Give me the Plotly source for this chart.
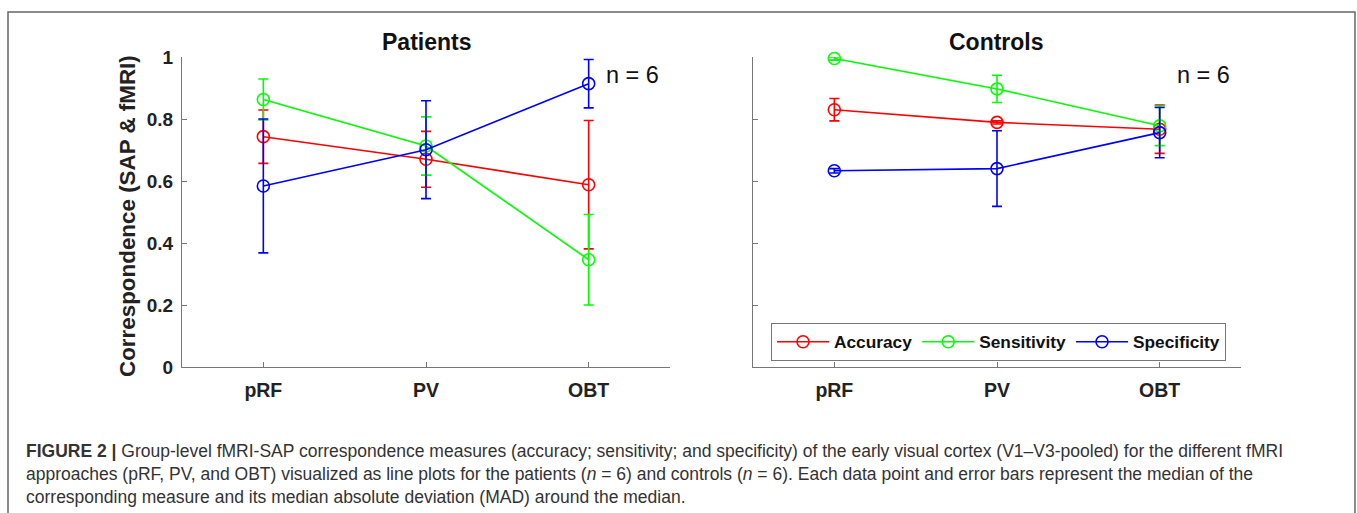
import plotly.graph_objects as go

W, H = 1357, 513

# Fixed-stage categories shared by both panels
stages = ["pRF", "PV", "OBT"]
measures = ["Accuracy", "Sensitivity", "Specificity"]
colors = {"Accuracy": "#FF0000", "Sensitivity": "#00FF00", "Specificity": "#0000FF"}

# Medians per measure (pRF, PV, OBT)
patients_acc = [0.743, 0.670, 0.588]
patients_sens = [0.863, 0.713, 0.346]
patients_spec = [0.584, 0.701, 0.914]
controls_acc = [0.830, 0.789, 0.767]
controls_sens = [0.995, 0.897, 0.778]
controls_spec = [0.633, 0.640, 0.756]

# Median absolute deviations (error bar half-lengths)
patients_acc_mad = [0.086, 0.090, 0.207]
patients_sens_mad = [0.066, 0.094, 0.146]
patients_spec_mad = [0.216, 0.158, 0.078]
controls_acc_mad = [0.036, 0.005, 0.078]
controls_sens_mad = [0.005, 0.044, 0.064]
controls_spec_mad = [0.007, 0.122, 0.081]

y_ticks = [0, 0.2, 0.4, 0.6, 0.8, 1]
y_tick_text = ["0", "0.2", "0.4", "0.6", "0.8", "1"]

caption_lines = [
    "<b>FIGURE 2 |</b> Group-level fMRI-SAP correspondence measures (accuracy; sensitivity; and specificity) of the early visual cortex (V1–V3-pooled) for the different fMRI",
    "approaches (pRF, PV, and OBT) visualized as line plots for the patients (<i>n</i> = 6) and controls (<i>n</i> = 6). Each data point and error bars represent the median of the",
    "corresponding measure and its median absolute deviation (MAD) around the median.",
]

FONT = "Liberation Sans, Arial"


def px(x):
    return x / W


def py(y):
    return 1 - y / H


panels = [
    ("x", "y", "Patients", [patients_acc, patients_sens, patients_spec],
     [patients_acc_mad, patients_sens_mad, patients_spec_mad], (182, 670)),
    ("x2", "y2", "Controls", [controls_acc, controls_sens, controls_spec],
     [controls_acc_mad, controls_sens_mad, controls_spec_mad], (753, 1241)),
]

fig = go.Figure()
stage_pos = [1, 2, 3]

for pi, (xa, ya, title, series, mads, _) in enumerate(panels):
    for name, vals, err in zip(measures, series, mads):
        fig.add_trace(go.Scatter(
            x=stage_pos, y=vals, xaxis=xa, yaxis=ya,
            mode="lines+markers", name=name,
            showlegend=(pi == 1),
            line=dict(color=colors[name], width=1.6),
            marker=dict(symbol="circle-open", size=12, color=colors[name],
                        line=dict(width=1.6, color=colors[name])),
            error_y=dict(type="data", array=err, visible=True,
                         color=colors[name], thickness=1.6, width=5),
            cliponaxis=False,
        ))

y0p, y1p = py(367), py(57)
axis_common = dict(showgrid=False, zeroline=False, showline=True, automargin=False,
                   linecolor="#777777", linewidth=1.3, ticks="inside",
                   ticklen=5, tickcolor="#777777", tickwidth=1.3)

layout_axes = {}
for i, (xa, ya, title, _, _, (xl, xr)) in enumerate(panels):
    xkey = "xaxis" if i == 0 else "xaxis2"
    ykey = "yaxis" if i == 0 else "yaxis2"
    layout_axes[xkey] = dict(
        domain=[px(xl), px(xr)], range=[0.5, 3.5], anchor=ya,
        tickvals=stage_pos, ticktext=stages, ticklabelstandoff=5,
        tickfont=dict(family=FONT, size=19.5, color="#222222", weight="bold"),
        **axis_common)
    layout_axes[ykey] = dict(
        domain=[y0p, y1p], range=[0, 1], anchor=xa,
        tickvals=y_ticks, ticktext=y_tick_text, showticklabels=(i == 0),
        ticklabelstandoff=4,
        tickfont=dict(family=FONT, size=19, color="#222222", weight="bold"),
        **axis_common)


def note(text, x, y, size, **kw):
    d = dict(text=text, x=px(x), y=py(y), xref="paper", yref="paper",
             xanchor="center", yanchor="middle", showarrow=False,
             font=dict(family=FONT, size=size, color=kw.pop("color", "#111111")))
    d.update(kw)
    return d


annotations = [
    note("<b>Patients</b>", 426, 42, 23),
    note("<b>Controls</b>", 997, 42, 23),
    note("n = 6", 632, 75, 23.5),
    note("n = 6", 1203, 75, 23.5),
    note("<b>Correspondence (SAP & fMRI)</b>", 127, 216, 22.4, textangle=-90, color="#222222"),
]
for k, line in enumerate(caption_lines):
    annotations.append(note(line, 24, 451 + 23 * k, 17.5, xanchor="left", color="#333333"))

fig.update_layout(
    width=W, height=H, autosize=False,
    margin=dict(l=0, r=0, t=0, b=0, pad=0, autoexpand=False),
    paper_bgcolor="white", plot_bgcolor="white",
    annotations=annotations,
    legend=dict(orientation="h", x=px(771), y=py(323), xanchor="left", yanchor="top",
                bordercolor="#777777", borderwidth=1, bgcolor="white",
                font=dict(family=FONT, size=17.3, color="#111111", weight="bold"),
                itemwidth=52, tracegroupgap=0),
    shapes=[dict(type="rect", xref="paper", yref="paper",
                 x0=px(8), x1=px(1355), y0=-0.05, y1=py(12),
                 line=dict(color="#666666", width=1.5))],
    **layout_axes,
)

fig.write_html("out.html")
